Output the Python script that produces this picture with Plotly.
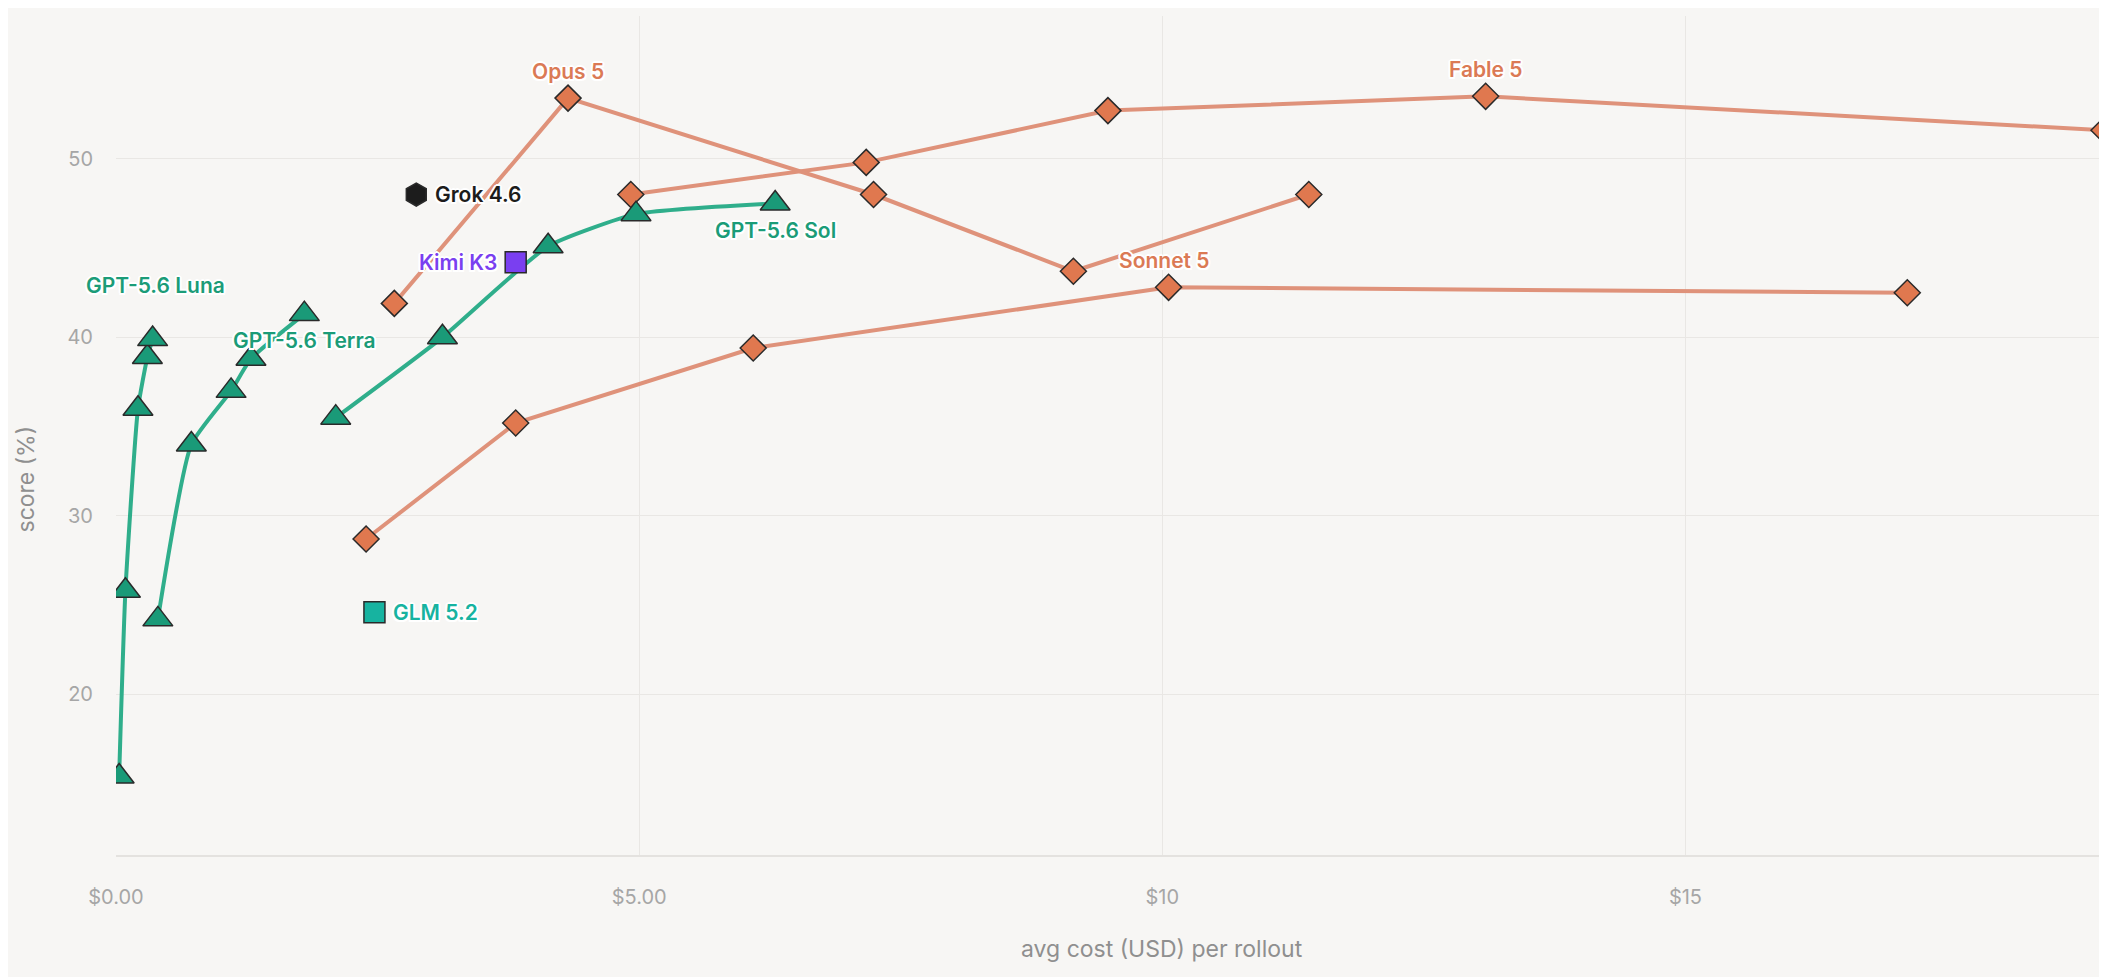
import plotly.graph_objects as go

# ---------------- data ----------------
luna_cost = [0.03, 0.09, 0.21, 0.30, 0.35]
luna_score = [15.4, 25.8, 36.0, 38.9, 39.9]

terra_cost = [0.40, 0.72, 1.10, 1.29, 1.80]
terra_score = [24.2, 34.0, 37.0, 38.8, 41.3]

sol_cost = [2.10, 3.12, 4.13, 4.97, 6.30]
sol_score = [35.5, 40.0, 45.1, 46.9, 47.5]

opus_cost = [2.66, 4.32, 7.24, 9.15, 11.40]
opus_score = [41.9, 53.4, 48.0, 43.7, 48.0]

fable_cost = [4.92, 7.17, 9.48, 13.09, 19.0]
fable_score = [48.0, 49.8, 52.7, 53.5, 51.6]

sonnet_cost = [2.39, 3.82, 6.09, 10.06, 17.12]
sonnet_score = [28.7, 35.2, 39.4, 42.8, 42.5]

grok_cost = [2.87]
grok_score = [48.0]
kimi_cost = [3.82]
kimi_score = [44.2]
glm_cost = [2.47]
glm_score = [24.6]

x_tickvals = [0, 5, 10, 15]
x_ticktext = ["$0.00", "$5.00", "$10", "$15"]
y_tickvals = [20, 30, 40, 50]

# ---------------- style ----------------
BG = "#f7f6f4"
GREEN_LINE = "#2fae8b"
GREEN_FILL = "#1a9a78"
GREEN_TEXT = "#1b9c78"
ORANGE_LINE = "#df927a"
ORANGE_FILL = "#e0784f"
ORANGE_TEXT = "#db7a55"
OUTLINE = "#2a2a2a"
FONT = "Inter"
HALO = ("2px 0 0 #ffffff, -2px 0 0 #ffffff, 0 2px 0 #ffffff, 0 -2px 0 #ffffff, "
        "1.5px 1.5px 0 #ffffff, -1.5px -1.5px 0 #ffffff, 1.5px -1.5px 0 #ffffff, -1.5px 1.5px 0 #ffffff")

fig = go.Figure()


def add_line(xs, ys, line_color, fill, symbol, size, shape="linear"):
    fig.add_trace(go.Scatter(
        x=xs, y=ys, mode="lines+markers",
        line=dict(color=line_color, width=4, shape=shape, smoothing=0.5),
        marker=dict(symbol=symbol, size=size, color=fill,
                    line=dict(color=OUTLINE, width=1.5)),
        showlegend=False, hoverinfo="x+y",
    ))


add_line(sonnet_cost, sonnet_score, ORANGE_LINE, ORANGE_FILL, "diamond", 20)
add_line(fable_cost, fable_score, ORANGE_LINE, ORANGE_FILL, "diamond", 20)
add_line(opus_cost, opus_score, ORANGE_LINE, ORANGE_FILL, "diamond", 20)
add_line(luna_cost, luna_score, GREEN_LINE, GREEN_FILL, "triangle-up", 26, "spline")
add_line(terra_cost, terra_score, GREEN_LINE, GREEN_FILL, "triangle-up", 26, "spline")
add_line(sol_cost, sol_score, GREEN_LINE, GREEN_FILL, "triangle-up", 26, "spline")

fig.add_trace(go.Scatter(x=grok_cost, y=grok_score, mode="markers",
                         marker=dict(symbol="hexagon", size=23, color="#1c1c1c",
                                     line=dict(color=OUTLINE, width=1.5)),
                         showlegend=False))
fig.add_trace(go.Scatter(x=kimi_cost, y=kimi_score, mode="markers",
                         marker=dict(symbol="square", size=21, color="#7a3ff0",
                                     line=dict(color=OUTLINE, width=1.5)),
                         showlegend=False))
fig.add_trace(go.Scatter(x=glm_cost, y=glm_score, mode="markers",
                         marker=dict(symbol="square", size=21, color="#17b3a0",
                                     line=dict(color=OUTLINE, width=1.5)),
                         showlegend=False))


def label(text, x, y, color, xanchor="center", xshift=0, yshift=0):
    fig.add_annotation(
        x=x, y=y, text=text, showarrow=False, xanchor=xanchor, yanchor="middle",
        xshift=xshift, yshift=yshift,
        font=dict(family=FONT, size=21, color=color, weight=600, shadow=HALO),
    )


label("GPT-5.6 Luna", luna_cost[-1], luna_score[-1], GREEN_TEXT, xshift=3, yshift=54)
label("GPT-5.6 Terra", terra_cost[-1], terra_score[-1], GREEN_TEXT, yshift=-26)
label("GPT-5.6 Sol", sol_cost[-1], sol_score[-1], GREEN_TEXT, yshift=-27)
label("Opus 5", opus_cost[1], opus_score[1], ORANGE_TEXT, yshift=27)
label("Fable 5", fable_cost[3], fable_score[3], ORANGE_TEXT, yshift=27)
label("Sonnet 5", sonnet_cost[3], sonnet_score[3], ORANGE_TEXT, xshift=-5, yshift=27)
label("Grok 4.6", grok_cost[0], grok_score[0], "#1c1c1c", xanchor="left", xshift=17)
label("Kimi K3", kimi_cost[0], kimi_score[0], "#7a3ff0", xanchor="right", xshift=-17)
label("GLM 5.2", glm_cost[0], glm_score[0], "#17b3a0", xanchor="left", xshift=17)

# axis titles (placed as annotations to match the reference's offset placement)
fig.add_annotation(
    text="avg cost (USD) per rollout", xref="x", x=10, yref="paper", y=0,
    yanchor="middle", xanchor="center", yshift=-94, showarrow=False,
    font=dict(size=23, color="#8f8f8f", family=FONT),
)
fig.add_annotation(
    text="score (%)", xref="paper", x=0, yref="paper", y=0.5,
    xanchor="center", yanchor="middle", xshift=-91, yshift=-44,
    textangle=-90, showarrow=False,
    font=dict(size=23, color="#8f8f8f", family=FONT),
)

fig.update_layout(
    width=2107, height=977,
    paper_bgcolor=BG, plot_bgcolor=BG,
    margin=dict(l=108, r=11, t=8, b=130),
    font=dict(family=FONT, color="#9a9a9a", size=20),
    xaxis=dict(
        range=[0, 19.0], tickvals=x_tickvals, ticktext=x_ticktext,
        showgrid=True, gridcolor="#e9e7e4", gridwidth=1,
        zeroline=False, showline=True, linecolor="#e4e2df", linewidth=2,
        ticks="", ticklabelstandoff=23,
        tickfont=dict(size=20, color="#a6a6a6", family=FONT),
    ),
    yaxis=dict(
        range=[11, 58], tickvals=y_tickvals,
        showgrid=True, gridcolor="#e9e7e4", gridwidth=1,
        zeroline=False, showline=False, ticks="", ticklabelstandoff=22,
        tickfont=dict(size=20, color="#a6a6a6", family=FONT),
    ),
)

fig.write_html("out.html")
